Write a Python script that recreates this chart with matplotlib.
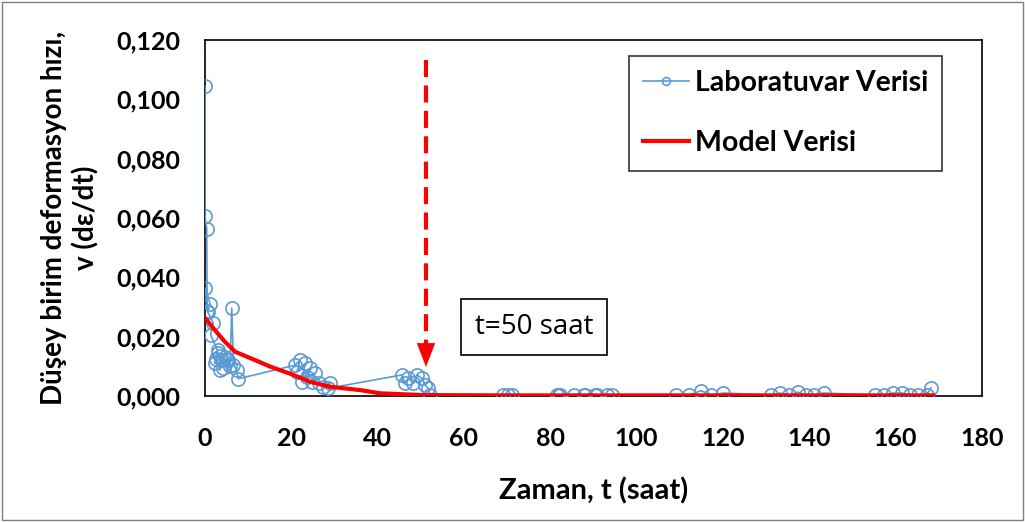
import matplotlib
matplotlib.use("Agg")
import matplotlib.pyplot as plt
from matplotlib.patches import Rectangle
from matplotlib.ticker import FuncFormatter

# ---- data ----
lab_t = [0.0, 0.0, 0.4, 0.5, 0.1, 1.2, 0.6, 1.9, 1.3, 2.9, 2.3, 3.1, 2.6, 3.5, 3.4,
         4.0, 4.6, 4.2, 5.0, 5.4, 5.8, 6.2, 6.6, 7.3, 7.7,
         20.9, 22.0, 21.3, 23.2, 22.4, 24.3, 23.6, 25.5, 24.7, 26.3, 27.4, 29.0, 28.6,
         45.6, 46.3, 47.1, 48.3, 49.1, 50.2, 51.0, 51.7, 52.1,
         69.1, 70.3, 71.1, 81.5, 81.9, 82.3, 85.4, 87.7, 88.1, 90.4, 90.8, 93.1, 94.3,
         109.2, 112.2, 114.9, 117.2, 120.1,
         131.1, 133.3, 135.4, 137.3, 139.3, 141.2, 143.3,
         155.3, 157.2, 159.3, 161.5, 163.4, 165.3, 167.2, 168.2]
lab_v = [0.1045, 0.0607, 0.0564, 0.0288, 0.0363, 0.0310, 0.0284, 0.0247, 0.0206, 0.0155,
         0.0110, 0.0145, 0.0125, 0.0088, 0.0135, 0.0120, 0.0132, 0.0095, 0.0125, 0.0121,
         0.0100, 0.0296, 0.0105, 0.0088, 0.0058,
         0.0104, 0.0121, 0.0082, 0.0110, 0.0048, 0.0093, 0.0065, 0.0077, 0.0048, 0.0043,
         0.0031, 0.0044, 0.0026,
         0.0071, 0.0043, 0.0060, 0.0043, 0.0071, 0.0060, 0.0037, 0.0026, 0.0003,
         0.0003, 0.0003, 0.0003, 0.0003, 0.0003, 0.0003, 0.0003, 0.0003, 0.0003, 0.0003,
         0.0003, 0.0003, 0.0003,
         0.0003, 0.0003, 0.0018, 0.0003, 0.0010,
         0.0003, 0.0010, 0.0003, 0.0013, 0.0003, 0.0003, 0.0010,
         0.0003, 0.0003, 0.0010, 0.0010, 0.0003, 0.0003, 0.0003, 0.0027]

model_t = [0.0, 2.3, 4.6, 7.0, 8.8, 11.6, 15.1, 20.5, 24.3, 29.0, 35.9, 40.6, 50.5,
           70.0, 100.0, 140.0, 168.7]
model_v = [0.0263, 0.0222, 0.0183, 0.0149, 0.0138, 0.0121, 0.0099, 0.0071, 0.0048,
           0.0031, 0.0020, 0.0009, 0.0003, 0.0002, 0.0002, 0.0002, 0.0002]

x_ticks = [0, 20, 40, 60, 80, 100, 120, 140, 160, 180]
y_ticks = [0.000, 0.020, 0.040, 0.060, 0.080, 0.100, 0.120]

arrow_t = 51.2
arrow_top = 0.1133
arrow_tip = 0.0098

labels = ["Laboratuvar Verisi", "Model Verisi"]
note = "t=50 saat"
xlabel = "Zaman, t (saat)"
ylabel = "Düşey birim deformasyon hızı,\nv (dε/dt)"

# ---- style ----
plt.rcParams['font.family'] = ['Lato', 'DejaVu Sans']
blue = '#5B9BD5'
red = '#FF0000'
fs = 18

fig = plt.figure(figsize=(10.25, 5.22), dpi=100)
ax = fig.add_axes([0.2, 0.2414, 0.758, 0.682])

ax.plot(lab_t, lab_v, color=blue, lw=1.2, marker='o', ms=9.5, mfc='none',
        mec=blue, mew=1.2, label=labels[0], zorder=3)
ax.plot(model_t, model_v, color=red, lw=3, label=labels[1], zorder=4)

# dashed arrow
ax.plot([arrow_t, arrow_t], [arrow_top, arrow_tip + 0.005], color=red, lw=3,
        dashes=(4.1, 2.0), solid_capstyle='butt', zorder=5)
ax.annotate('', xy=(arrow_t, arrow_tip), xytext=(arrow_t, arrow_tip + 0.006),
            arrowprops=dict(arrowstyle='-|>,head_length=0.85,head_width=0.33',
                            mutation_scale=20, color=red, lw=0.1,
                            shrinkA=0, shrinkB=0), zorder=5)

# note box
ax.text(76.2, 0.0233, note, fontsize=20, fontweight='normal', ha='center',
        va='center', family=['Open Sans', 'DejaVu Sans'],
        bbox=dict(boxstyle='square,pad=0.5', fc='white', ec='black', lw=1.2),
        zorder=6)

ax.set_xlim(0, 180)
ax.set_ylim(0, 0.12)
ax.set_xticks(x_ticks)
ax.set_yticks(y_ticks)
ax.yaxis.set_major_formatter(FuncFormatter(lambda v, p: f"{v:.3f}".replace('.', ',')))
ax.tick_params(length=0, labelsize=fs)
ax.tick_params(axis='x', pad=22)
ax.tick_params(axis='y', pad=18)
for lab in ax.get_xticklabels() + ax.get_yticklabels():
    lab.set_fontweight('bold')
for s in ax.spines.values():
    s.set_color('black')
    s.set_linewidth(1.2)

ax.set_xlabel(xlabel, fontsize=21, fontweight='bold', labelpad=20)
ax.set_ylabel(ylabel, fontsize=20, fontweight='bold', labelpad=12, linespacing=1.25)

leg = ax.legend(loc='upper left', bbox_to_anchor=(0.546, 0.955),
                prop=dict(weight='bold', size=20.5), frameon=True, fancybox=False,
                edgecolor='black', handlelength=1.6, handletextpad=0.2,
                labelspacing=1.2, borderpad=0.5, borderaxespad=0, markerscale=0.6)
leg.get_frame().set_linewidth(1.2)

fig.patches.append(Rectangle((0.002, 0.003), 0.996, 0.994, transform=fig.transFigure,
                             fill=False, ec='#7F7F7F', lw=1))

fig.savefig('out.png', dpi=100)
